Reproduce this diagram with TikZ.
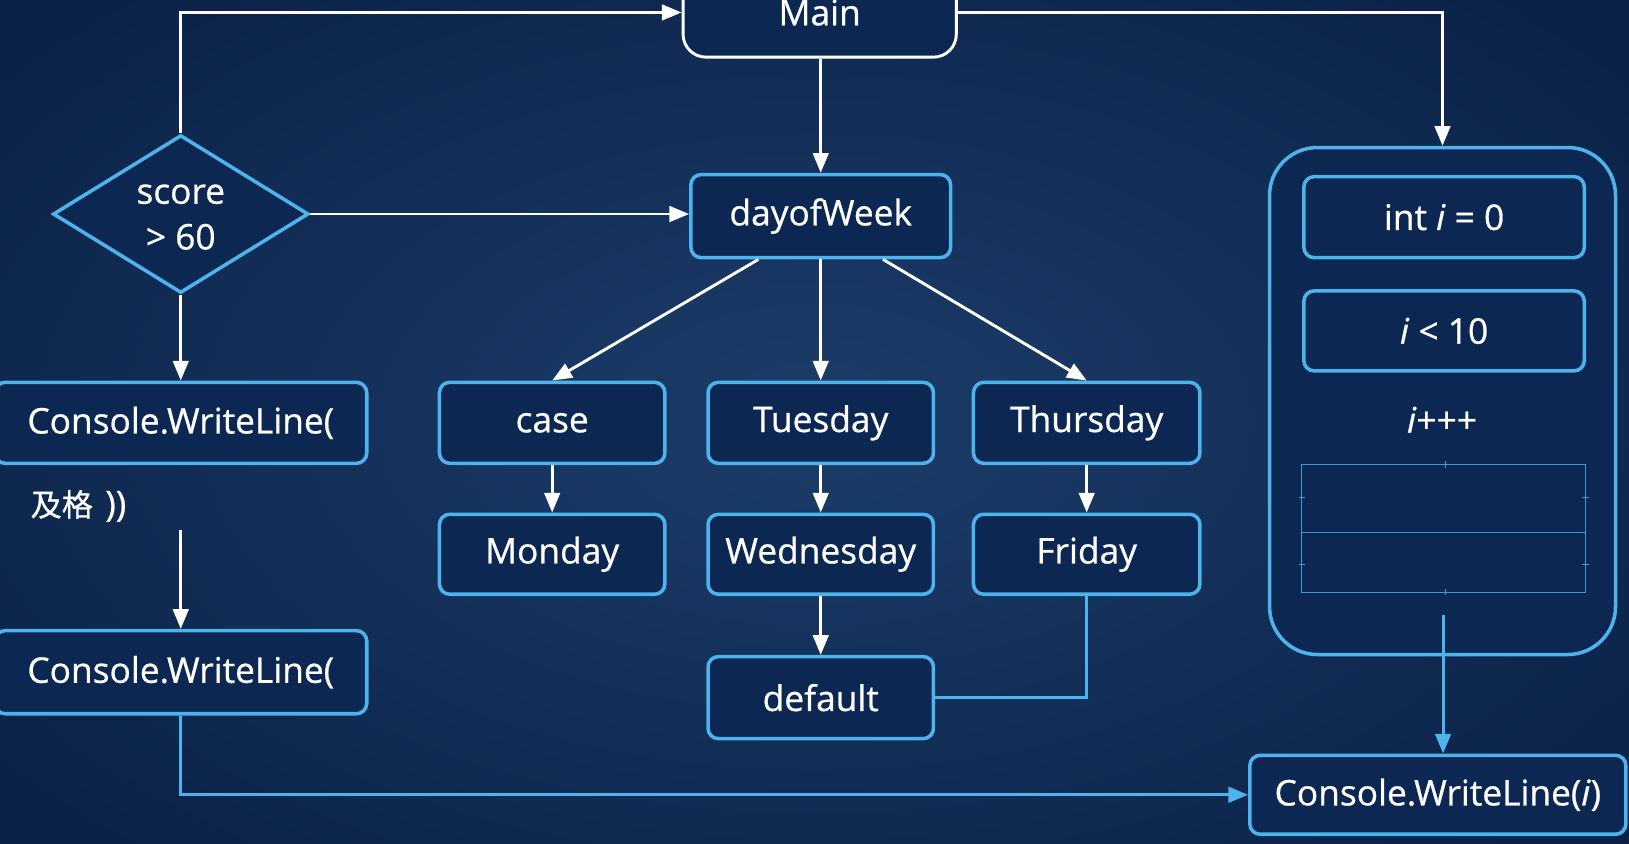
\documentclass[tikz,border=0pt]{standalone}
\usepackage{fontspec}
\setmainfont{Open Sans}[FakeBold=0.7]
\newfontfamily\cjk{Noto Sans CJK SC}[FakeBold=0.7]
\usetikzlibrary{arrows.meta,shapes.geometric}
\definecolor{bgC}{HTML}{1C3D6A}
\definecolor{bgE}{HTML}{0B2248}
\definecolor{boxfill}{HTML}{0C2751}
\definecolor{lblue}{HTML}{4DB3EC}
\begin{document}
\begin{tikzpicture}[x=1pt,y=-1pt,
  every node/.style={text=white, font=\fontsize{34}{44}\selectfont},
  box/.style={draw=lblue, line width=3.4pt, fill=boxfill, rounded corners=10pt, inner sep=0pt, align=center},
  wline/.style={draw=white, line width=2.8pt},
  warr/.style={wline, -{Triangle[length=19pt,width=15pt]}},
  bline/.style={draw=lblue, line width=2.8pt},
  barr/.style={bline, -{Triangle[length=19pt,width=15pt]}},
  gridline/.style={draw=lblue, line width=0.8pt, opacity=0.8},
]
\useasboundingbox (0,0) rectangle (1568,812);
\clip (0,0) rectangle (1568,812);
\shade[inner color=bgC, outer color=bgE] (-200,-150) rectangle (1768,962);

% top
\node[box, draw=white, line width=2.8pt, rounded corners=22pt, minimum width=263pt, minimum height=86pt] (main) at (789,12) {Main};

% decision
\node[diamond, draw=lblue, line width=3.4pt, fill=boxfill, minimum width=246pt, minimum height=152pt, inner sep=0pt] (dia) at (174,206) {};
\node[align=center] (diat) at (174,209) {score\\> 60};

\node[box, minimum width=250pt, minimum height=80pt] (dow) at (790,208) {dayofWeek};

% left column
\node[box, minimum width=358pt, minimum height=78pt] (c1) at (174,407) {Console.WriteLine(};
\node[anchor=west] (pass) at (26,487) {{\cjk\fontsize{30}{36}\selectfont 及格}\hspace{0.35em}))};
\coordinate (c2in) at (174,510);
\node[box, minimum width=358pt, minimum height=80pt] (c2) at (174,647) {Console.WriteLine(};

% switch
\node[box, minimum width=217pt, minimum height=78pt] (case) at (531.5,407) {case};
\node[box, minimum width=217pt, minimum height=77pt] (mon) at (531.5,533.5) {Monday};
\node[box, minimum width=217pt, minimum height=78pt] (tue) at (790,407) {Tuesday};
\node[box, minimum width=217pt, minimum height=77pt] (wed) at (790,533.5) {Wednesday};
\node[box, minimum width=218pt, minimum height=78pt] (thu) at (1046,407) {Thursday};
\node[box, minimum width=218pt, minimum height=77pt] (fri) at (1046,533.5) {Friday};
\node[box, minimum width=217pt, minimum height=79pt] (def) at (790,671.5) {default};

% loop
\node[box, rounded corners=46pt, minimum width=333pt, minimum height=488pt] (loop) at (1388.5,386) {};
\node[box, minimum width=270pt, minimum height=78pt] (init) at (1390,209) {int \textit{i} = 0};
\node[box, minimum width=270pt, minimum height=77pt] (cond) at (1390,318.5) {\textit{i} < 10};
\node (inc) at (1388,404) {\textit{i}+++};
\draw[gridline] (1253,447) rectangle (1526,570);
\draw[gridline] (1253,512) -- (1526,512);
\draw[gridline] (1391,444) -- (1391,450) (1391,567) -- (1391,573);
\draw[gridline] (1250,479) -- (1256,479) (1250,543) -- (1256,543);
\draw[gridline] (1523,479) -- (1529,479) (1523,543) -- (1529,543);
\coordinate (lout) at (1389,592);

\node[box, minimum width=362pt, minimum height=76pt] (cwi) at (1384,765) {Console.WriteLine(\textit{i})};

% connectors
\draw[warr] (dia.north) |- (main.west);
\draw[warr] (main.east) -| (loop.north);
\draw[warr] (main.south -| dow.north) -- (dow.north);
\draw[warr] (dia.east) -- (dia.east -| dow.west);
\draw[warr] (dia.south) -- (c1.north);
\draw[warr] (c2in) -- (c2.north);
\draw[warr] ([xshift=-60pt]dow.south) -- (case.north);
\draw[warr] (dow.south) -- (tue.north);
\draw[warr] ([xshift=60pt]dow.south) -- (thu.north);
\draw[warr] (case.south) -- (mon.north);
\draw[warr] (tue.south) -- (wed.north);
\draw[warr] (thu.south) -- (fri.north);
\draw[warr] (wed.south) -- (def.north);
\draw[bline] (fri.south) |- (def.east);
\draw[barr] (c2.south) |- (cwi.west);
\draw[barr] (lout) -- (lout |- cwi.north);
\end{tikzpicture}
\end{document}
